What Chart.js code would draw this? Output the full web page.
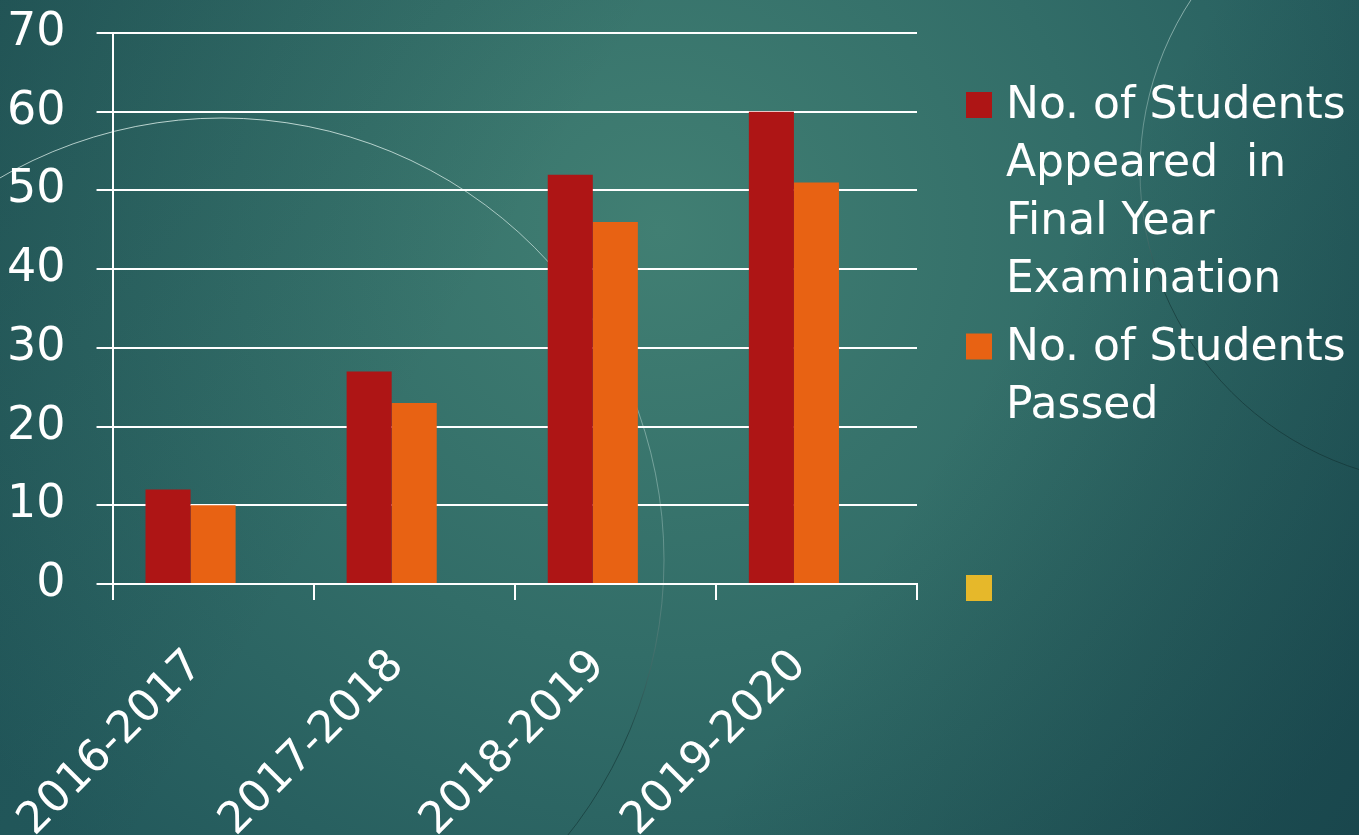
<!DOCTYPE html>
<html>
<head>
<meta charset="utf-8">
<script src="https://cdn.jsdelivr.net/npm/chart.js@4.4.0/dist/chart.umd.min.js"></script>
<style>
  html, body { margin: 0; padding: 0; width: 1359px; height: 835px; overflow: hidden; background: #2b6563; }
  canvas { display: block; }
</style>
</head>
<body>
<canvas id="studentsChart" width="1359" height="835"></canvas>
<script>
const years = ['2016-2017', '2017-2018', '2018-2019', '2019-2020'];
const appeared = [12, 27, 52, 60];
const passed = [10, 23, 46, 51];
const thirdSeries = [null, null, null, null];
const seriesNames = [
    ['No. of Students', 'Appeared  in', 'Final Year', 'Examination'],
    ['No. of Students', 'Passed'],
    ['']
];
const seriesColors = ['#AE1515', '#E86213', '#E6B82A'];
const yTicks = [0, 10, 20, 30, 40, 50, 60, 70];

Chart.defaults.font.family = "'DejaVu Sans', sans-serif";
Chart.defaults.color = '#ffffff';

// slide background: teal gradient plus the two thin decorative circles
const slideBackground = {
    id: 'slideBackground',
    beforeDraw(chart) {
        const ctx = chart.ctx;
        const w = chart.width, h = chart.height;
        ctx.save();
        const g = ctx.createRadialGradient(660, 230, 0, 660, 230, 850);
        g.addColorStop(0, '#417f73');
        g.addColorStop(0.5, '#326d68');
        g.addColorStop(1, '#22585b');
        ctx.fillStyle = g;
        ctx.fillRect(0, 0, w, h);
        // darker towards top-left and bottom-right corners
        const d = ctx.createLinearGradient(0, 0, w, h);
        d.addColorStop(0, 'rgba(15,50,55,0.25)');
        d.addColorStop(0.35, 'rgba(15,50,55,0)');
        d.addColorStop(0.65, 'rgba(15,50,55,0)');
        d.addColorStop(1, 'rgba(15,50,60,0.45)');
        ctx.fillStyle = d;
        ctx.fillRect(0, 0, w, h);

        function ring(cx, cy, r) {
            const s = ctx.createLinearGradient(0, cy - r, 0, cy + r);
            s.addColorStop(0, 'rgba(235,250,245,0.75)');
            s.addColorStop(0.45, 'rgba(200,225,220,0.35)');
            s.addColorStop(0.7, 'rgba(15,45,45,0.55)');
            s.addColorStop(1, 'rgba(15,45,45,0.55)');
            ctx.strokeStyle = s;
            ctx.lineWidth = 1;
            ctx.beginPath();
            ctx.arc(cx, cy, r, 0, Math.PI * 2);
            ctx.stroke();
        }
        ring(222, 560, 442);
        ring(1453, 171, 313);
        ctx.restore();
    }
};

// legend on the right with wrapped labels
const sideLegend = {
    id: 'sideLegend',
    afterDraw(chart, args, opts) {
        const ctx = chart.ctx;
        const left = chart.chartArea.right + opts.gap;
        ctx.save();
        ctx.font = opts.size + 'px ' + Chart.defaults.font.family;
        ctx.textBaseline = 'middle';
        ctx.textAlign = 'left';
        chart.data.datasets.forEach((ds, i) => {
            const y0 = chart.chartArea.top + opts.first + i * opts.step;
            ctx.fillStyle = ds.backgroundColor;
            ctx.fillRect(left, y0 - opts.box / 2 - 2, opts.box, opts.box);
            ctx.fillStyle = '#ffffff';
            seriesNames[i].forEach((line, k) => {
                ctx.fillText(line, left + opts.box + opts.textGap, y0 + k * opts.lineHeight);
            });
        });
        ctx.restore();
    }
};

new Chart(document.getElementById('studentsChart'), {
    type: 'bar',
    data: {
        labels: years,
        datasets: [
            { label: seriesNames[0].join(' '), data: appeared, backgroundColor: seriesColors[0] },
            { label: seriesNames[1].join(' '), data: passed, backgroundColor: seriesColors[1] },
            { label: '', data: thirdSeries, backgroundColor: seriesColors[2] }
        ]
    },
    options: {
        responsive: false,
        animation: false,
        categoryPercentage: 0.672,
        barPercentage: 1.0,
        layout: { padding: { top: 0, left: -24, right: 442, bottom: -52 } },
        plugins: {
            legend: { display: false },
            tooltip: { enabled: false },
            sideLegend: { gap: 49, box: 26, textGap: 14, first: 74, lineHeight: 58, step: 241.5, size: 44 }
        },
        scales: {
            x: {
                afterFit: scale => { scale.paddingLeft = 0; scale.paddingRight = 0; },
                grid: { offset: true, drawOnChartArea: false, drawTicks: true, tickLength: 16, color: '#ffffff', lineWidth: 2 },
                border: { display: true, color: '#ffffff', width: 2 },
                ticks: { color: '#ffffff', font: { size: 44 }, minRotation: 45, maxRotation: 45, padding: 40, labelOffset: -17 }
            },
            y: {
                min: 0,
                max: 70,
                afterBuildTicks: axis => { axis.ticks = yTicks.map(v => ({ value: v })); },
                afterFit: scale => { scale.paddingTop = 33; scale.paddingBottom = 0; },
                grid: { color: '#ffffff', lineWidth: 2, tickLength: 16 },
                border: { display: true, color: '#ffffff', width: 2 },
                ticks: { color: '#ffffff', font: { size: 46 }, padding: 31 }
            }
        }
    },
    plugins: [slideBackground, sideLegend]
});
</script>
</body>
</html>
